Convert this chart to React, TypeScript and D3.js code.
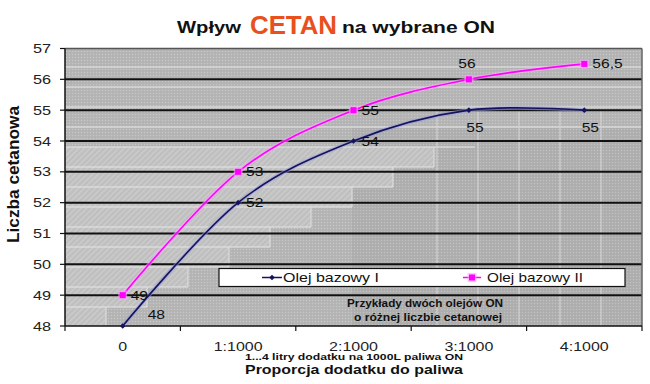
import React from "react";
import * as d3 from "d3";

const categories = ["0", "1:1000", "2:1000", "3:1000", "4:1000"];
const seriesNames = ["Olej bazowy I", "Olej bazowy II"];
const baseOil1 = [48, 52, 54, 55, 55];
const baseOil2 = [49, 53, 55, 56, 56.5];
const labels1 = ["48", "52", "54", "55", "55"];
const labels2 = ["49", "53", "55", "56", "56,5"];
const place1 = ["aboveRight", "right", "right", "below", "below"];
const place2 = ["right", "right", "right", "above", "right"];
const yTicks = [48, 49, 50, 51, 52, 53, 54, 55, 56, 57];

const W = 650;
const H = 384;
const L = 65;
const R = 642;
const T = 48.5;
const B = 326;
const FONT = "'Liberation Sans', Arial, sans-serif";

const NAVY = "#14145e";
const MAGENTA = "#ff00ff";

function SText(props: any) {
  const { x, y, sx = 1.22, children, anchor = "start", size = 13, weight = "normal", fill = "#111", rotate = 0 } = props;
  return (
    <text
      transform={`translate(${x},${y}) rotate(${rotate}) scale(${sx},1)`}
      textAnchor={anchor}
      fontFamily={FONT}
      fontSize={size}
      fontWeight={weight}
      fill={fill}
    >
      {children}
    </text>
  );
}

export default function App() {
  const x = d3.scalePoint<string>().domain(categories).range([L, R]).padding(0.5);
  const band = d3.scaleBand<string>().domain(categories).range([L, R]);
  const y = d3.scaleLinear().domain([48, 57]).range([B, T]);

  const line = d3
    .line<number>()
    .x((_, i) => x(categories[i]) as number)
    .y((d) => y(d))
    .curve(d3.curveCardinal.tension(0));

  const bandEdges = categories.map((c) => band(c) as number).concat([R]);

  // decorative staircase texture
  const stairs = d3.range(0, 9).map((i) => ({
    top: 147 + 20 * i,
    bottom: Math.min(167 + 20 * i, B),
    right: 434 - 41 * i,
  }));
  const hLines = d3.range(67, B, 20);
  const vLines = d3.range(437, R - 5, 41);

  const labelPos = (cx: number, cy: number, p: string) => {
    if (p === "right") return { x: cx + 8, y: cy + 4.5, a: "start" };
    if (p === "below") return { x: cx + 6, y: cy + 21.5, a: "middle" };
    if (p === "above") return { x: cx - 2, y: cy - 11.5, a: "middle" };
    return { x: cx + 25, y: cy - 7.5, a: "start" };
  };

  const series = [
    { name: seriesNames[0], values: baseOil1, labels: labels1, place: place1, color: NAVY, halo: "#9a9ad8", marker: "dot" },
    { name: seriesNames[1], values: baseOil2, labels: labels2, place: place2, color: MAGENTA, halo: "#ffb0ff", marker: "square" },
  ];

  const marker = (s: any, cx: number, cy: number, key: any) =>
    s.marker === "square" ? (
      <g key={key}>
        <rect x={cx - 4.5} y={cy - 4.5} width={9} height={9} fill="#ff9cff" opacity={0.6} />
        <rect x={cx - 3} y={cy - 3} width={6} height={6} fill={MAGENTA} />
      </g>
    ) : (
      <path key={key} d={`M${cx},${cy - 2.8}L${cx + 2.8},${cy}L${cx},${cy + 2.8}L${cx - 2.8},${cy}Z`} fill={NAVY} />
    );

  return (
    <div style={{ position: "fixed", left: 0, top: 0 }}>
      <svg width={W} height={H} style={{ display: "block", background: "#fff" }}>
        <defs>
          <pattern id="dots" width="3" height="3" patternUnits="userSpaceOnUse">
            <rect width="3" height="3" fill="#b6b6b6" />
            <rect width="1" height="1" fill="#c8c8c8" />
            <rect x="1.5" y="1.5" width="1" height="1" fill="#a9a9a9" />
          </pattern>
          <pattern id="dotsDark" width="3" height="3" patternUnits="userSpaceOnUse">
            <rect width="3" height="3" fill="#b0b0b0" />
            <rect width="1" height="1" fill="#c2c2c2" />
            <rect x="1.5" y="1.5" width="1" height="1" fill="#a3a3a3" />
          </pattern>
          <pattern id="hatch" width="4" height="4" patternUnits="userSpaceOnUse" patternTransform="rotate(45)">
            <rect width="4" height="4" fill="#bfbfbf" />
            <rect width="1.3" height="4" fill="#cdcdcd" />
          </pattern>
        </defs>

        {/* Title */}
        <text x={177} y={33} fontFamily={FONT} fontWeight="bold" fontSize={16} textLength={64} lengthAdjust="spacingAndGlyphs" fill="#111">Wpływ</text>
        <text x={250} y={34} fontFamily={FONT} fontWeight="bold" fontSize={25} textLength={87} lengthAdjust="spacingAndGlyphs" fill="#e8501c">CETAN</text>
        <text x={342} y={33} fontFamily={FONT} fontWeight="bold" fontSize={16} textLength={153} lengthAdjust="spacingAndGlyphs" fill="#111">na wybrane ON</text>

        {/* Plot background */}
        <rect x={L} y={T} width={R - L} height={B - T} fill="url(#dots)" />
        <rect x={352} y={128} width={R - 352} height={B - 128} fill="url(#dotsDark)" />
        {stairs.map((s, i) => (
          <g key={"st" + i}>
            <rect x={L} y={s.top} width={s.right - L} height={s.bottom - s.top} fill="url(#hatch)" />
            <line x1={s.right} x2={s.right} y1={s.top} y2={s.bottom} stroke="#dcdcdc" strokeWidth={1.2} />
          </g>
        ))}
        {hLines.map((hy, i) => (
          <line key={"hl" + i} x1={L} x2={hy < 128 ? R : hy < 147 ? 517 : Math.max(L, 434 - 41 * ((hy - 147) / 20) + 41)} y1={hy} y2={hy} stroke="#e0e0e0" strokeWidth={1.3} opacity={0.8} />
        ))}
        {vLines.map((vx, i) => (
          <line key={"vl" + i} x1={vx} x2={vx} y1={110} y2={B} stroke="#d2d2d2" strokeWidth={1.2} />
        ))}

        {/* Gridlines */}
        {yTicks.filter((t) => t > 48 && t < 57).map((t) => (
          <line key={"g" + t} x1={L} x2={R} y1={y(t)} y2={y(t)} stroke="#111" strokeWidth={2} />
        ))}
        <line x1={L} x2={R} y1={T} y2={T} stroke="#555" strokeWidth={1.5} />
        <line x1={R} x2={R} y1={T} y2={B} stroke="#666" strokeWidth={1.5} />

        {/* Axes */}
        <line x1={L} x2={L} y1={T} y2={B} stroke="#111" strokeWidth={1.5} />
        <line x1={L} x2={R} y1={B} y2={B} stroke="#111" strokeWidth={1.5} />
        {yTicks.map((t) => (
          <g key={"yt" + t}>
            <line x1={L - 5} x2={L} y1={y(t)} y2={y(t)} stroke="#111" strokeWidth={1.2} />
            <SText x={51} y={y(t) + 4.5} anchor="end" sx={1.25} fill="#222">{String(t)}</SText>
          </g>
        ))}
        {bandEdges.map((bx, i) => (
          <line key={"xt" + i} x1={bx} x2={bx} y1={B} y2={B + 5} stroke="#111" strokeWidth={1.2} />
        ))}
        {categories.map((c) => (
          <SText key={"xl" + c} x={x(c)} y={351} anchor="middle" sx={1.23} fill="#222">{c}</SText>
        ))}

        {/* Legend */}
        <rect x={219} y={268.5} width={406} height={18} fill="#fff" stroke="#111" strokeWidth={1.2} />
        <line x1={262} x2={282} y1={277.5} y2={277.5} stroke={NAVY} strokeWidth={1.5} />
        {marker(series[0], 272, 277.5, "lm1")}
        <text x={283} y={282} fontFamily={FONT} fontSize={13} textLength={96} lengthAdjust="spacingAndGlyphs" fill="#111">{seriesNames[0]}</text>
        <line x1={463} x2={481} y1={277.5} y2={277.5} stroke={MAGENTA} strokeWidth={1.5} />
        {marker(series[1], 472, 277.5, "lm2")}
        <text x={487} y={282} fontFamily={FONT} fontSize={13} textLength={96} lengthAdjust="spacingAndGlyphs" fill="#111">{seriesNames[1]}</text>

        {/* Annotation */}
        <text x={425} y={307} textAnchor="middle" fontFamily={FONT} fontWeight="bold" fontSize={11} textLength={156} lengthAdjust="spacingAndGlyphs" fill="#111">Przykłady dwóch olejów ON</text>
        <text x={428} y={320.5} textAnchor="middle" fontFamily={FONT} fontWeight="bold" fontSize={11} textLength={148} lengthAdjust="spacingAndGlyphs" fill="#111">o różnej liczbie cetanowej</text>

        {/* Series */}
        {series.map((s, si) => (
          <g key={"s" + si}>
            <path d={line(s.values) || ""} fill="none" stroke={s.halo} strokeWidth={4} opacity={0.55} />
            <path d={line(s.values) || ""} fill="none" stroke={s.color} strokeWidth={1.6} />
            {s.values.map((v, i) => marker(s, x(categories[i]) as number, y(v), "m" + si + i))}
            {s.values.map((v, i) => {
              const p = labelPos(x(categories[i]) as number, y(v), s.place[i]);
              return (
                <SText key={"dl" + si + i} x={p.x} y={p.y} anchor={p.a} sx={1.2} size={13}>{s.labels[i]}</SText>
              );
            })}
          </g>
        ))}

        {/* Axis titles */}
        <text x={354} y={360} textAnchor="middle" fontFamily={FONT} fontWeight="bold" fontSize={9} textLength={218} lengthAdjust="spacingAndGlyphs" fill="#111">1...4  litry dodatku  na 1000L paliwa ON</text>
        <text x={354} y={374} textAnchor="middle" fontFamily={FONT} fontWeight="bold" fontSize={13} textLength={218} lengthAdjust="spacingAndGlyphs" fill="#111">Proporcja dodatku do paliwa</text>
        <text transform="translate(19,174.5) rotate(-90)" textAnchor="middle" fontFamily={FONT} fontWeight="bold" fontSize={16} textLength={137} lengthAdjust="spacingAndGlyphs" fill="#111">Liczba cetanowa</text>
      </svg>
    </div>
  );
}
